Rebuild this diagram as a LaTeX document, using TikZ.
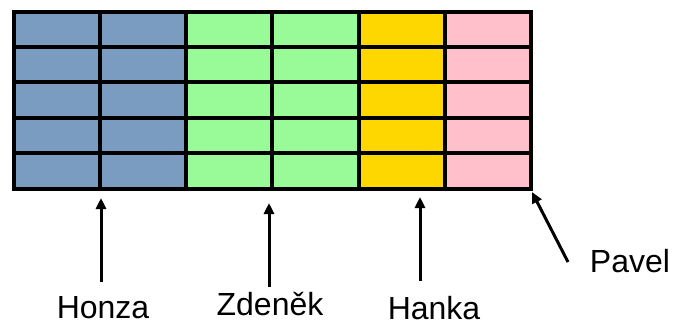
\documentclass[tikz,border=0pt]{standalone}
\usepackage{fontspec}
\setmainfont{Liberation Sans}
\usetikzlibrary{arrows.meta}
\definecolor{cblue}{HTML}{7A9CC0}
\definecolor{cgreen}{HTML}{98FB98}
\definecolor{cgold}{HTML}{FFD700}
\definecolor{cpink}{HTML}{FFC0CB}
\begin{document}
\begin{tikzpicture}[x=1pt,y=-1pt,
  cell/.style={draw=black, line width=4pt, minimum width=86.33pt, minimum height=35.4pt, inner sep=0pt, outer sep=0pt, anchor=center},
  lbl/.style={font=\fontsize{32}{38}\selectfont, anchor=base, inner sep=0pt, text depth=0pt},
  arr/.style={line width=3pt, -{Triangle[length=11pt,width=10pt]}}]
\useasboundingbox (0,0) rectangle (677,322);
\foreach \c/\col in {0/cblue,1/cblue,2/cgreen,3/cgreen,4/cgold,5/cpink}{
  \foreach \r in {0,...,4}{
    \node[cell, fill=\col] (c-\c-\r) at ({13.5+86.33*\c+43.17},{11.5+35.4*\r+17.7}) {};
  }
}
\node[lbl] (honza) at (103,318) {Honza};
\node[lbl] (zdenek) at (270,315) {Zdeněk};
\node[lbl] (hanka) at (434,319) {Hanka};
\node[lbl] (pavel) at (630,272) {Pavel};
\coordinate (honzaT) at (101,282);
\coordinate (honzaH) at (101,198);
\coordinate (zdenekT) at (269,287);
\coordinate (zdenekH) at (269,203);
\coordinate (hankaT) at (420,281);
\coordinate (hankaH) at (420,197);
\coordinate (pavelT) at (568,262);
\coordinate (pavelH) at (532,192);
\draw[arr] (honzaT) -- (honzaH);
\draw[arr] (zdenekT) -- (zdenekH);
\draw[arr] (hankaT) -- (hankaH);
\draw[arr] (pavelT) -- (pavelH);
\end{tikzpicture}
\end{document}
